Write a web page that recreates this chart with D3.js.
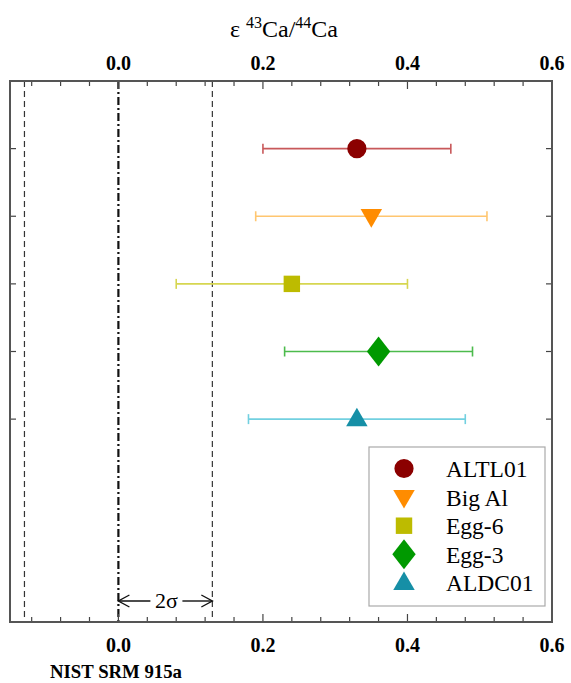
<!DOCTYPE html>
<html>
<head>
<meta charset="utf-8">
<title>Ca isotopes</title>
<script src="https://cdn.jsdelivr.net/npm/d3@7"></script>
<style>
  body { margin: 0; background: #fff; }
  text { font-family: "Liberation Serif", "Times New Roman", serif; }
</style>
</head>
<body>
<div id="chart"></div>
<script>
// data
var samples = ["ALTL01", "Big Al", "Egg-6", "Egg-3", "ALDC01"];
var values = [0.33, 0.35, 0.24, 0.36, 0.33];
var errLow = [0.20, 0.19, 0.08, 0.23, 0.18];
var errHigh = [0.46, 0.51, 0.40, 0.49, 0.48];
var markerColors = ["#8b0000", "#ff8c00", "#bdbb00", "#009900", "#168fa6"];
var barColors = ["#c8585a", "#ffc670", "#d6d650", "#4cbb4c", "#72d0e0"];
var shapes = ["circle", "triDown", "square", "diamond", "triUp"];
var xTicks = [0.0, 0.2, 0.4, 0.6];
var twoSigma = 0.13;

var width = 571, height = 683;
var plotL = 10, plotR = 552, plotT = 81, plotB = 622;

var svg = d3.select("#chart").append("svg")
  .attr("width", width).attr("height", height);

var x = d3.scaleLinear().domain([-0.15, 0.6]).range([plotL, plotR]);
var y = d3.scaleLinear().domain([0, 8]).range([plotT, plotB]);

// reference lines
svg.append("line")
  .attr("x1", x(0)).attr("x2", x(0)).attr("y1", plotT).attr("y2", plotB)
  .attr("stroke", "#111").attr("stroke-width", 2.2)
  .attr("stroke-dasharray", "8,3,2,3");
[-twoSigma, twoSigma].forEach(function (v) {
  svg.append("line")
    .attr("x1", x(v)).attr("x2", x(v)).attr("y1", plotT).attr("y2", plotB)
    .attr("stroke", "#333").attr("stroke-width", 1.2)
    .attr("stroke-dasharray", "6,4");
});

// minor/major ticks on top and bottom (inside)
var minor = d3.range(-0.12, 0.6001, 0.04);
minor.forEach(function (v) {
  var isMajor = Math.abs(Math.round(v / 0.2) * 0.2 - v) < 1e-6;
  var len = isMajor ? 8 : 5;
  svg.append("line").attr("x1", x(v)).attr("x2", x(v))
    .attr("y1", plotT).attr("y2", plotT + len).attr("stroke", "#444").attr("stroke-width", 1.2);
  svg.append("line").attr("x1", x(v)).attr("x2", x(v))
    .attr("y1", plotB).attr("y2", plotB - len).attr("stroke", "#444").attr("stroke-width", 1.2);
});

// y ticks both sides
samples.forEach(function (s, i) {
  var yy = y(i + 1);
  svg.append("line").attr("x1", plotL).attr("x2", plotL + 6).attr("y1", yy).attr("y2", yy)
    .attr("stroke", "#444").attr("stroke-width", 1.2);
  svg.append("line").attr("x1", plotR).attr("x2", plotR - 6).attr("y1", yy).attr("y2", yy)
    .attr("stroke", "#444").attr("stroke-width", 1.2);
});

// tick labels top and bottom
xTicks.forEach(function (v) {
  svg.append("text").attr("x", x(v)).attr("y", 70)
    .attr("text-anchor", "middle").attr("font-size", 20).attr("font-weight", "bold")
    .text(v.toFixed(1));
  svg.append("text").attr("x", x(v)).attr("y", 652)
    .attr("text-anchor", "middle").attr("font-size", 20).attr("font-weight", "bold")
    .text(v.toFixed(1));
});

// axis title
var title = svg.append("text").attr("x", 284).attr("y", 37)
  .attr("text-anchor", "middle").attr("font-size", 24);
title.append("tspan").text("ε ");
title.append("tspan").attr("font-size", 16).attr("dy", -9).text("43");
title.append("tspan").attr("dy", 9).text("Ca/");
title.append("tspan").attr("font-size", 16).attr("dy", -9).text("44");
title.append("tspan").attr("dy", 9).text("Ca");

svg.append("text").attr("x", 50).attr("y", 678)
  .attr("font-size", 19).attr("font-weight", "bold")
  .attr("textLength", 132).attr("lengthAdjust", "spacingAndGlyphs")
  .text("NIST SRM 915a");

// 2 sigma annotation
var ay = 601;
svg.append("line").attr("x1", x(0)).attr("x2", x(0) + 32).attr("y1", ay).attr("y2", ay)
  .attr("stroke", "#111").attr("stroke-width", 1.4);
svg.append("line").attr("x1", x(0) + 64).attr("x2", x(twoSigma)).attr("y1", ay).attr("y2", ay)
  .attr("stroke", "#111").attr("stroke-width", 1.4);
svg.append("path")
  .attr("d", "M" + (x(0) + 11) + "," + (ay - 6) + "L" + x(0) + "," + ay + "L" + (x(0) + 11) + "," + (ay + 6))
  .attr("fill", "none").attr("stroke", "#111").attr("stroke-width", 1.4);
svg.append("path")
  .attr("d", "M" + (x(twoSigma) - 11) + "," + (ay - 6) + "L" + x(twoSigma) + "," + ay + "L" + (x(twoSigma) - 11) + "," + (ay + 6))
  .attr("fill", "none").attr("stroke", "#111").attr("stroke-width", 1.4);
svg.append("text").attr("x", x(0) + 48).attr("y", ay + 7)
  .attr("text-anchor", "middle").attr("font-size", 22).text("2σ");

function symbolFor(shape, size) {
  var map = {
    circle: d3.symbolCircle, square: d3.symbolSquare, diamond: d3.symbolDiamond,
    triUp: d3.symbolTriangle, triDown: d3.symbolTriangle
  };
  return d3.symbol().type(map[shape]).size(size)();
}
function drawMarker(g, shape, cx, cy, color) {
  var size = { circle: 290, square: 270, diamond: 260, triUp: 200, triDown: 200 }[shape];
  var rot = shape === "triDown" ? 180 : 0;
  var dy = shape === "triUp" ? 1 : (shape === "triDown" ? -1 : 0);
  var p = g.append("path").attr("d", symbolFor(shape, size))
    .attr("transform", "translate(" + cx + "," + (cy + dy) + ") rotate(" + rot + ")")
    .attr("fill", color);
  if (shape === "diamond") {
    p.attr("transform", "translate(" + cx + "," + cy + ") scale(1.35,1)");
  }
}

// error bars and markers
samples.forEach(function (s, i) {
  var yy = y(i + 1);
  var g = svg.append("g");
  g.append("line").attr("x1", x(errLow[i])).attr("x2", x(errHigh[i]))
    .attr("y1", yy).attr("y2", yy).attr("stroke", barColors[i]).attr("stroke-width", 1.6);
  [errLow[i], errHigh[i]].forEach(function (v) {
    g.append("line").attr("x1", x(v)).attr("x2", x(v))
      .attr("y1", yy - 5).attr("y2", yy + 5).attr("stroke", barColors[i]).attr("stroke-width", 1.6);
  });
  drawMarker(g, shapes[i], x(values[i]), yy, markerColors[i]);
});

// legend
var lg = svg.append("g");
lg.append("rect").attr("x", 369).attr("y", 447).attr("width", 176).attr("height", 159)
  .attr("fill", "#fff").attr("stroke", "#aaa").attr("stroke-width", 1.2);
samples.forEach(function (s, i) {
  var ly = 468.5 + i * 28.6;
  drawMarker(lg, shapes[i], 404, ly, markerColors[i]);
  lg.append("text").attr("x", 446).attr("y", ly + 8.5).attr("font-size", 23.5).text(s);
});

// frame
svg.append("rect").attr("x", plotL).attr("y", plotT)
  .attr("width", plotR - plotL).attr("height", plotB - plotT)
  .attr("fill", "none").attr("stroke", "#555").attr("stroke-width", 2);

svg.selectAll("text").attr("font-family", "Liberation Serif, Times New Roman, serif");
</script>
</body>
</html>
